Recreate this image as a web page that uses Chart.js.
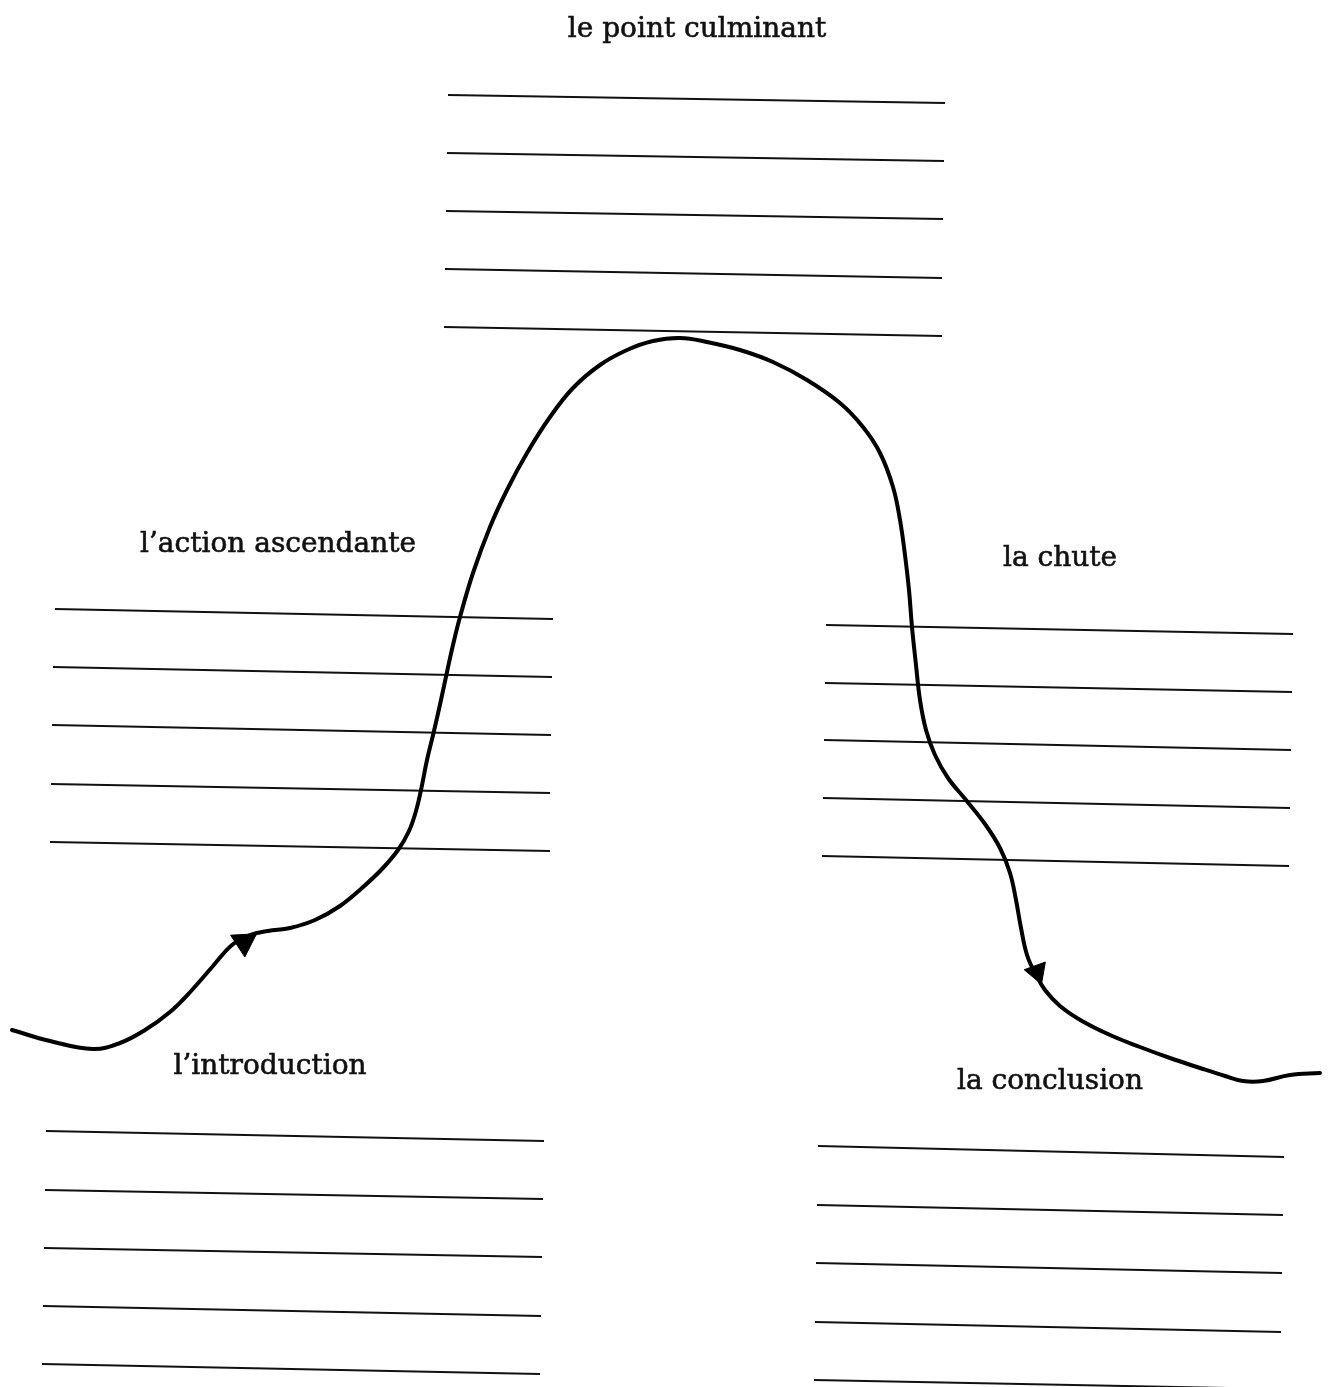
<!DOCTYPE html>
<html>
<head>
<meta charset="utf-8">
<script src="https://cdn.jsdelivr.net/npm/chart.js@4.4.1/dist/chart.umd.min.js"></script>
<style>
  html, body { margin: 0; padding: 0; background: #ffffff; }
  #wrap { width: 1331px; height: 1387px; position: relative; }
</style>
</head>
<body>
<div id="wrap"><canvas id="c" width="1331" height="1387"></canvas></div>
<script>
// ---- Data (diagram units: x across, y down) ----
// Story arc curve
const arcX = [12,50,93,120,145,170,192,213,232,250,268,290,315,340,362,382,398,409,416,421,427,434,441,447,453,460,473,490,507,527,550,573,600,627,653,680,707,740,773,807,840,863,880,893,900,905,909,912,916,920,926,935,948,966,985,1000,1010,1016,1021,1027,1035,1045,1060,1082,1110,1140,1170,1200,1225,1243,1263,1290,1320];
const arcY = [1030,1041,1049,1043,1030,1012,990,966,945,935,931,928,920,906,888,869,850,831,811,790,760,731,700,672,645,617,573,527,490,453,417,388,365,350,341,338,342,350,362,380,403,427,453,487,520,555,590,627,665,700,730,755,778,800,824,848,873,900,928,955,973,990,1006,1021,1035,1047,1058,1068,1076,1081,1081,1075,1073];

// Arrowheads on the curve
const arrowX = [244, 1037];
const arrowY = [942, 972];
const arrowAngle = [57, 160];
const arrowSize = [15, 13];

// Writing lines per section: [x1, y1, x2, y2]
const climaxLines = [[448,95,945,103],[447,153,944,161],[446,211,943,219],[445,269,942,278],[444,327,942,336]];
const risingLines = [[55,609,553,619],[53,667,552,677],[52,725,551,735],[51,784,550,793],[50,842,550,851]];
const fallingLines = [[826,625,1293,634],[825,683,1292,692],[824,740,1291,750],[823,798,1290,808],[822,856,1289,866]];
const introLines = [[46,1131,544,1141],[45,1190,543,1199],[44,1248,542,1257],[43,1306,541,1316],[42,1364,540,1374]];
const conclusionLines = [[818,1146,1284,1157],[817,1205,1283,1215],[816,1263,1282,1273],[815,1322,1281,1332],[814,1380,1280,1389]];

// Section labels
const labelTexts = ["le point culminant", "l\u2019action ascendante", "la chute", "l\u2019introduction", "la conclusion"];
const labelX = [697, 278, 1060, 270, 1050];
const labelY = [30, 545, 559, 1067, 1082];

// ---- Build datasets ----
const datasets = [];
datasets.push({
  label: 'arrows',
  data: arrowX.map((x, i) => ({x, y: arrowY[i]})),
  showLine: false,
  pointStyle: 'triangle',
  rotation: arrowAngle,
  pointRadius: arrowSize,
  pointBackgroundColor: '#000',
  pointBorderColor: '#000',
  pointBorderWidth: 1,
  order: 0,
  clip: false
});
datasets.push({
  label: 'arc',
  data: arcX.map((x, i) => ({x, y: arcY[i]})),
  showLine: true,
  borderColor: '#000',
  borderWidth: 4,
  pointRadius: 0,
  tension: 0.4,
  borderCapStyle: 'round',
  borderJoinStyle: 'round',
  fill: false,
  order: 1,
  clip: false
});
[climaxLines, risingLines, fallingLines, introLines, conclusionLines].forEach(group => {
  group.forEach(l => {
    datasets.push({
      label: 'line',
      data: [{x: l[0], y: l[1]}, {x: l[2], y: l[3]}],
      showLine: true,
      borderColor: '#111',
      borderWidth: 2,
      pointRadius: 0,
      tension: 0,
      fill: false,
      order: 2,
      clip: false
    });
  });
});

const labelPlugin = {
  id: 'labels',
  afterDatasetsDraw(chart) {
    const ctx = chart.ctx;
    const xs = chart.scales.x, ys = chart.scales.y;
    ctx.save();
    ctx.fillStyle = '#111';
    ctx.strokeStyle = '#111';
    ctx.lineWidth = 0.6;
    ctx.font = '28px "DejaVu Serif", "Liberation Serif", serif';
    ctx.textAlign = 'center';
    ctx.textBaseline = 'middle';
    labelTexts.forEach((t, i) => {
      const px = xs.getPixelForValue(labelX[i]), py = ys.getPixelForValue(labelY[i]);
      ctx.fillText(t, px, py);
      ctx.strokeText(t, px, py);
    });
    ctx.restore();
  }
};

new Chart(document.getElementById('c'), {
  type: 'scatter',
  data: { datasets },
  options: {
    responsive: false,
    animation: false,
    events: [],
    layout: { padding: 0, autoPadding: false },
    plugins: { legend: { display: false }, tooltip: { enabled: false }, title: { display: false } },
    scales: {
      x: { type: 'linear', min: 0, max: 1331, display: false },
      y: { type: 'linear', min: 0, max: 1387, reverse: true, display: false }
    }
  },
  plugins: [labelPlugin]
});
</script>
</body>
</html>
